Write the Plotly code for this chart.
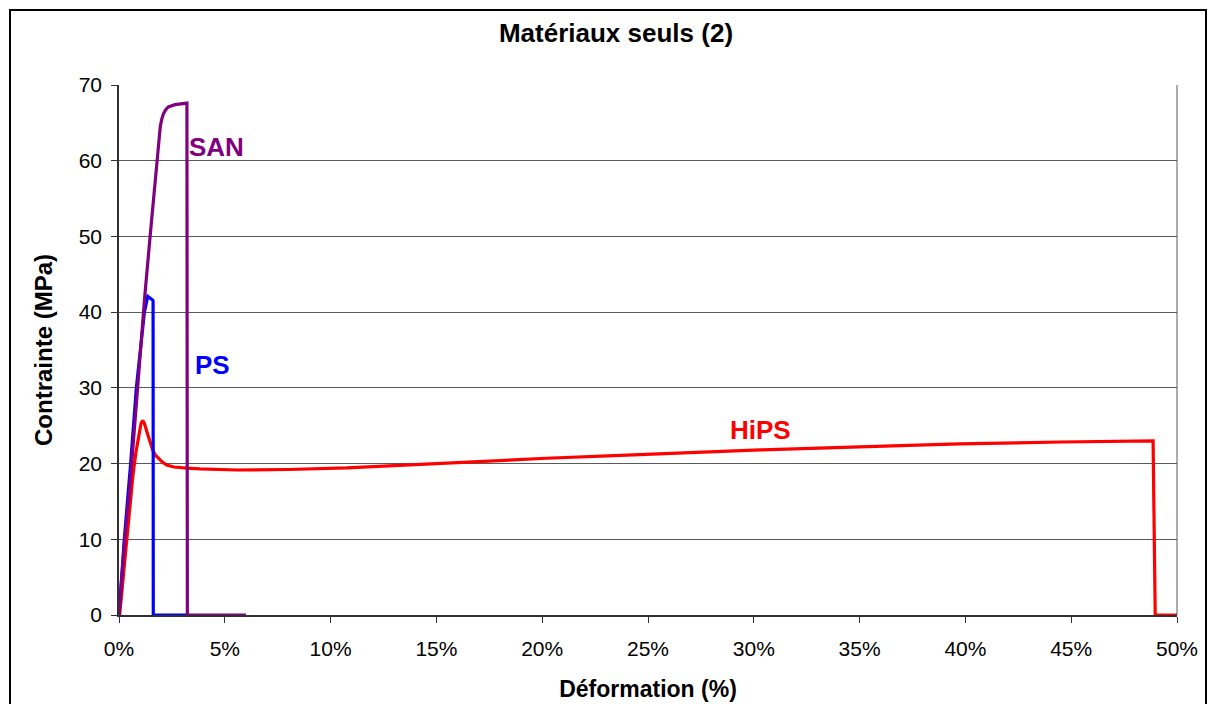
import plotly.graph_objects as go

# ---- data (strain in %, stress in MPa) ----
san_x = [0, 0.27, 0.50, 0.74, 0.84, 1.23, 1.47, 1.67, 1.78, 1.88, 1.95, 2.02, 2.10, 2.20, 2.33, 2.65, 2.90, 3.12, 3.21, 3.23, 6.0]
san_y = [0, 10, 16.5, 25.3, 29.5, 42.5, 50, 56.1, 60, 62.9, 64.5, 65.5, 66.2, 66.7, 67.1, 67.4, 67.5, 67.6, 67.6, 0, 0]

ps_x = [0, 0.25, 0.55, 0.82, 1.20, 1.33, 1.36, 1.59, 1.61, 1.62, 3.2]
ps_y = [0, 10, 20, 30, 40, 42.0, 42.1, 41.6, 41.5, 0, 0]

hips_x = [0.03, 0.20, 0.36, 0.52, 0.66, 0.80, 0.94, 1.04, 1.12, 1.20, 1.34, 1.50, 1.59, 1.72, 1.86,
          2.05, 2.25, 2.60, 3.20, 3.83, 5.56, 8.0, 10.76, 13.9, 17.06, 20.2, 23.4, 26.5, 30.3,
          35.0, 39.7, 44.5, 48.8, 48.87, 48.97, 50.0]
hips_y = [0, 5, 10, 15, 18.5, 21.5, 24.0, 25.3, 25.7, 25.3, 24.0, 22.6, 21.8, 21.1, 20.7,
          20.2, 19.8, 19.55, 19.4, 19.3, 19.15, 19.22, 19.42, 19.85, 20.3, 20.7, 21.05, 21.4, 21.8,
          22.2, 22.6, 22.85, 23.0, 23.0, 0, 0]

labels = ["SAN", "PS", "HiPS"]
label_x = [4.63, 4.44, 30.3]
label_y = [61.8, 33.0, 24.4]
colors = ["#800080", "#0000FF", "#FF0000"]

W, H = 1210, 704
L, R, T, B = 119, 1177, 85, 615  # plot area in pixels

def px(x):
    return (x - L) / (R - L)

def py(y):
    return (B - y) / (B - T)

FONT = "Liberation Sans, Arial, sans-serif"

fig = go.Figure()
fig.add_trace(go.Scatter(x=hips_x, y=hips_y, mode="lines", name="HiPS",
                         line=dict(color=colors[2], width=3.2)))
fig.add_trace(go.Scatter(x=ps_x, y=ps_y, mode="lines", name="PS",
                         line=dict(color=colors[1], width=3.2)))
fig.add_trace(go.Scatter(x=san_x, y=san_y, mode="lines", name="SAN",
                         line=dict(color=colors[0], width=3.2)))

for t, x, y, c in zip(labels, label_x, label_y, colors):
    fig.add_annotation(x=x, y=y, text=f"<b>{t}</b>", showarrow=False,
                       font=dict(family=FONT, size=26, color=c))

# outer chart frame
fig.add_shape(type="rect", xref="paper", yref="paper",
              x0=px(10), x1=px(1206), y0=py(740), y1=py(10),
              line=dict(color="black", width=2), layer="below")

fig.update_layout(
    width=W, height=H,
    margin=dict(l=L, r=W - R, t=T, b=H - B, autoexpand=False),
    paper_bgcolor="white", plot_bgcolor="white",
    showlegend=False,
    font=dict(family=FONT, size=21, color="black"),
    title=dict(text="<b>Matériaux seuls (2)</b>", x=616 / W, xanchor="center",
               y=1 - 33 / H, yanchor="middle",
               font=dict(size=26, color="black")),
)
fig.update_xaxes(range=[0, 50], dtick=5, ticksuffix="%", showgrid=False, automargin=False,
                 showline=True, linecolor="#303030", linewidth=1.5, mirror=False,
                 ticks="outside", ticklen=6, tickcolor="#303030", zeroline=False,
                 tickfont=dict(size=21), ticklabelstandoff=8,
                 title=dict(text="<b>Déformation (%)</b>", font=dict(size=23), standoff=22))
fig.update_yaxes(range=[0, 70], dtick=10, showgrid=True, gridcolor="#5a5a5a", gridwidth=1.2,
                 automargin=False,
                 showline=True, linecolor="#303030", linewidth=1.5,
                 ticks="outside", ticklen=6, tickcolor="#303030", zeroline=False,
                 tickfont=dict(size=21), ticklabelstandoff=5,
                 title=dict(text="<b>Contrainte (MPa)</b>", font=dict(size=24), standoff=19))
# right border of the plot area
fig.add_shape(type="line", xref="paper", yref="paper", x0=1, x1=1, y0=0, y1=1,
              line=dict(color="#909090", width=1.5), layer="below")

fig.write_html("out.html", config={"displayModeBar": False},
               post_script="document.body.style.margin='0px';")
